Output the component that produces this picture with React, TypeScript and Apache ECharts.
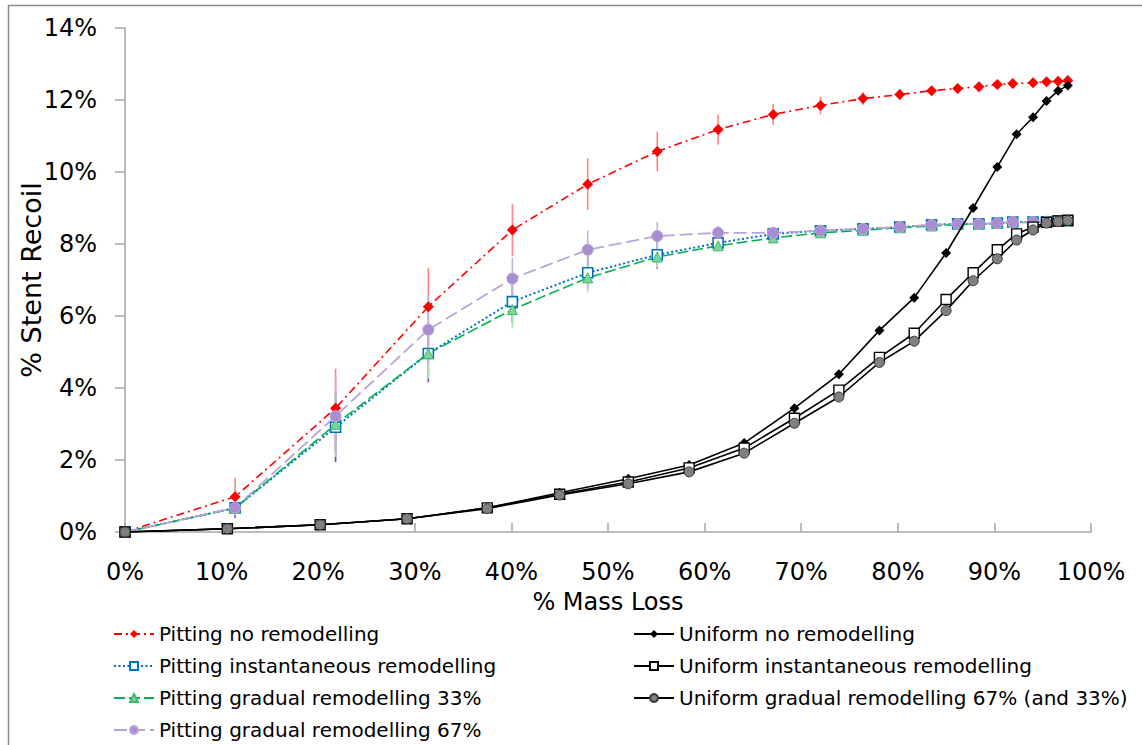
import React, { useEffect, useRef } from "react";
import * as echarts from "echarts";

// % mass loss (x) for the pitting and the uniform models
const pitX = [0, 11.4, 21.8, 31.4, 40.1, 47.9, 55.1, 61.4, 67.1, 72.0, 76.4, 80.2, 83.5, 86.2, 88.4, 90.3, 91.9, 94.0, 95.4, 96.6, 97.6];
const uniX = [0, 10.6, 20.2, 29.2, 37.5, 45.0, 52.1, 58.4, 64.1, 69.3, 73.9, 78.1, 81.7, 85.0, 87.8, 90.3, 92.3, 94.0, 95.4, 96.6, 97.6];

// % stent recoil
const pitNoRemod = [0, 0.98, 3.44, 6.26, 8.39, 9.66, 10.57, 11.18, 11.6, 11.85, 12.04, 12.15, 12.26, 12.32, 12.37, 12.43, 12.46, 12.48, 12.51, 12.52, 12.54];
const pitNoRemodErr = [0, 0.53, 1.1, 1.08, 0.72, 0.72, 0.55, 0.42, 0.29, 0.25, 0.18, 0.14, 0.1, 0.08, 0.07, 0.06, 0.05, 0.05, 0.04, 0.04, 0.04];

const pitInst = [0, 0.67, 2.91, 4.96, 6.4, 7.2, 7.7, 8.03, 8.28, 8.37, 8.42, 8.47, 8.53, 8.56, 8.56, 8.58, 8.61, 8.61, 8.62, 8.64, 8.64];
const pitInstErr = [0, 0.28, 0.97, 0.8, 0.58, 0.45, 0.39, 0.22, 0.12, 0.08, 0.06, 0.05, 0.04, 0.03, 0.03, 0.03, 0.03, 0.03, 0.03, 0.03, 0.03];

const pitGrad33 = [0, 0.66, 2.99, 4.96, 6.18, 7.06, 7.64, 7.95, 8.17, 8.31, 8.38, 8.45, 8.5, 8.54, 8.55, 8.57, 8.6, 8.6, 8.61, 8.63, 8.63];
const pitGrad33Err = [0, 0.2, 0.9, 0.7, 0.53, 0.4, 0.3, 0.15, 0.1, 0.07, 0.05, 0.04, 0.03, 0.03, 0.03, 0.03, 0.03, 0.03, 0.03, 0.03, 0.03];

const pitGrad67 = [0, 0.67, 3.22, 5.62, 7.04, 7.84, 8.22, 8.31, 8.31, 8.37, 8.42, 8.47, 8.53, 8.56, 8.56, 8.58, 8.61, 8.61, 8.62, 8.64, 8.65];
const pitGrad67Err = [0, 0.2, 1.05, 0.94, 0.58, 0.53, 0.39, 0.2, 0.1, 0.06, 0.05, 0.04, 0.03, 0.03, 0.03, 0.03, 0.03, 0.03, 0.03, 0.03, 0.03];

const uniNoRemod = [0, 0.09, 0.2, 0.37, 0.67, 1.09, 1.48, 1.86, 2.47, 3.44, 4.38, 5.6, 6.51, 7.75, 9.0, 10.14, 11.05, 11.52, 11.97, 12.26, 12.4];
const uniInst = [0, 0.09, 0.2, 0.37, 0.67, 1.05, 1.39, 1.78, 2.33, 3.16, 3.94, 4.85, 5.52, 6.46, 7.2, 7.84, 8.28, 8.47, 8.6, 8.64, 8.66];
const uniGrad = [0, 0.09, 0.2, 0.37, 0.65, 1.03, 1.34, 1.67, 2.19, 3.02, 3.75, 4.71, 5.3, 6.15, 6.98, 7.59, 8.11, 8.39, 8.58, 8.62, 8.65];

const xTicks = { min: 0, max: 100, interval: 10 };
const yTicks = { min: 0, max: 14, interval: 2 };

const names = [
  "Pitting no remodelling",
  "Pitting instantaneous remodelling",
  "Pitting gradual remodelling 33%",
  "Pitting gradual remodelling 67%",
  "Uniform no remodelling",
  "Uniform instantaneous remodelling",
  "Uniform gradual remodelling 67% (and 33%)",
];

const FONT = "DejaVu Sans";

function pairs(xs: number[], ys: number[]) {
  return xs.map((x, i) => [x, ys[i]]);
}

function errSeries(xs: number[], ys: number[], es: number[], color: string) {
  return {
    type: "custom",
    silent: true,
    z: 1,
    data: xs.map((x, i) => [x, ys[i] - es[i], ys[i] + es[i]]),
    encode: { x: 0, y: [1, 2] },
    renderItem: (params: any, api: any) => {
      const p1 = api.coord([api.value(0), api.value(1)]);
      const p2 = api.coord([api.value(0), api.value(2)]);
      return {
        type: "line",
        shape: { x1: p1[0], y1: p1[1], x2: p2[0], y2: p2[1] },
        style: { stroke: color, lineWidth: 1.6 },
      };
    },
  };
}

const legendCommon = {
  orient: "vertical",
  top: 618,
  height: 130,
  itemWidth: 40,
  itemHeight: 10,
  itemGap: 10,
  textStyle: { fontFamily: FONT, fontSize: 20, color: "#000", lineHeight: 22 },
  selectedMode: false,
};

export default function App() {
  const ref = useRef<HTMLDivElement>(null);
  useEffect(() => {
    if (!ref.current) return;
    const chart = echarts.init(ref.current, undefined, { renderer: "svg" });
    const option: any = {
      animation: false,
      backgroundColor: "#ffffff",
      textStyle: { fontFamily: FONT },
      grid: { left: 125, right: 51, top: 28, bottom: 213 },
      xAxis: {
        type: "value",
        ...xTicks,
        name: "% Mass Loss",
        nameLocation: "middle",
        nameGap: 58,
        nameTextStyle: { fontFamily: FONT, fontSize: 24, color: "#000" },
        axisLine: { lineStyle: { color: "#a6a6a6", width: 1.5 } },
        axisTick: { inside: true, length: 9, lineStyle: { color: "#a6a6a6", width: 1.5 } },
        axisLabel: { formatter: "{value}%", fontFamily: FONT, fontSize: 24, color: "#000", margin: 28 },
        splitLine: { show: false },
      },
      yAxis: {
        type: "value",
        ...yTicks,
        name: "% Stent Recoil",
        nameLocation: "middle",
        nameGap: 80,
        nameMoveOverlap: false,
        nameTextStyle: { fontFamily: FONT, fontSize: 27, color: "#000" },
        axisLine: { show: true, lineStyle: { color: "#a6a6a6", width: 1.5 } },
        axisTick: { show: true, length: 10, lineStyle: { color: "#a6a6a6", width: 1.5 } },
        axisLabel: { formatter: "{value}%", fontFamily: FONT, fontSize: 24, color: "#000", margin: 28 },
        splitLine: { show: false },
      },
      legend: [
        { ...legendCommon, data: names.slice(0, 4), left: 108 },
        { ...legendCommon, data: names.slice(4), left: 628 },
      ],
      graphic: [
        {
          type: "rect",
          shape: { x: 8.5, y: 5.5, width: 1200, height: 800 },
          style: { fill: "none", stroke: "#8c8c8c", lineWidth: 1.5 },
          silent: true,
        },
      ],
      series: [
        errSeries(pitX, pitNoRemod, pitNoRemodErr, "#ff8585"),
        errSeries(pitX, pitInst, pitInstErr, "#6a4cae"),
        errSeries(pitX, pitGrad33, pitGrad33Err, "#a9e5bb"),
        errSeries(pitX, pitGrad67, pitGrad67Err, "#c4b0e2"),
        {
          name: names[0],
          type: "line",
          z: 3,
          data: pairs(pitX, pitNoRemod),
          symbol: "diamond",
          symbolSize: 11,
          itemStyle: { color: "#ff0000" },
          lineStyle: { color: "#ff0000", width: 1.6, type: [8, 4, 2, 4] },
        },
        {
          name: names[1],
          type: "line",
          z: 3,
          data: pairs(pitX, pitInst),
          symbol: "rect",
          symbolSize: 10,
          itemStyle: { color: "#ffffff", borderColor: "#0070c0", borderWidth: 1.6 },
          lineStyle: { color: "#0070c0", width: 2, type: [2, 2.5] },
        },
        {
          name: names[2],
          type: "line",
          z: 3,
          data: pairs(pitX, pitGrad33),
          symbol: "triangle",
          symbolSize: 10,
          itemStyle: { color: "#7fd49b", borderColor: "#3cbc68", borderWidth: 1 },
          lineStyle: { color: "#00b050", width: 1.6, type: [11, 4] },
        },
        {
          name: names[3],
          type: "line",
          z: 3,
          data: pairs(pitX, pitGrad67),
          symbol: "circle",
          symbolSize: 11,
          itemStyle: { color: "#a98dd0", borderColor: "#b9a3dc", borderWidth: 1 },
          lineStyle: { color: "#b7a4da", width: 1.8, type: [13, 5] },
        },
        {
          name: names[4],
          type: "line",
          z: 4,
          data: pairs(uniX, uniNoRemod),
          symbol: "diamond",
          symbolSize: 10,
          itemStyle: { color: "#000000" },
          lineStyle: { color: "#000000", width: 1.6 },
        },
        {
          name: names[5],
          type: "line",
          z: 4,
          data: pairs(uniX, uniInst),
          symbol: "rect",
          symbolSize: 10,
          itemStyle: { color: "#ffffff", borderColor: "#000000", borderWidth: 1.4 },
          lineStyle: { color: "#000000", width: 1.6 },
        },
        {
          name: names[6],
          type: "line",
          z: 4,
          data: pairs(uniX, uniGrad),
          symbol: "circle",
          symbolSize: 10,
          itemStyle: { color: "#808080", borderColor: "#3a3a3a", borderWidth: 1 },
          lineStyle: { color: "#000000", width: 1.6 },
        },
      ],
    };
    chart.setOption(option);
    return () => chart.dispose();
  }, []);
  return (
    <div
      ref={ref}
      style={{ position: "fixed", left: 0, top: 0, width: 1142, height: 745, background: "#fff" }}
    />
  );
}
